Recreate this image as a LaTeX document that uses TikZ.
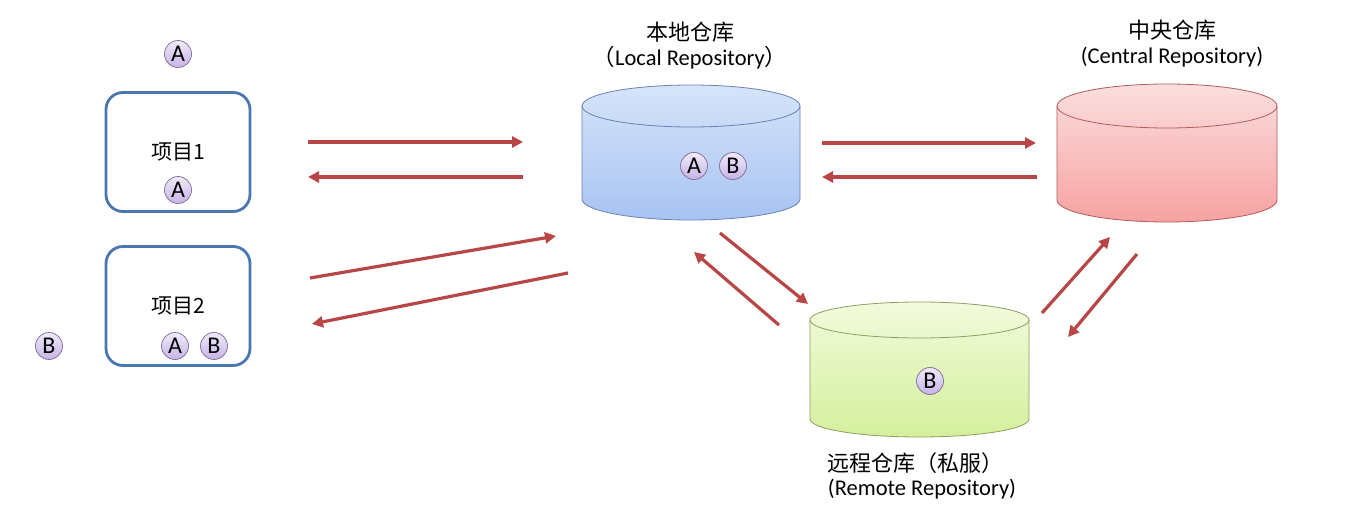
\documentclass[tikz,border=0pt]{standalone}
\usepackage{fontspec}
\setmainfont{Carlito}
\newfontfamily\cjk{Noto Sans CJK SC}
\usepackage{xcolor}
\usetikzlibrary{arrows.meta,positioning,calc}

\definecolor{projblue}{HTML}{4A76B2}
\definecolor{pkgline}{HTML}{7C6E96}
\definecolor{pkgtop}{HTML}{F1EAFB}
\definecolor{pkgbot}{HTML}{C6B3E6}
\definecolor{flowred}{HTML}{B84646}
\definecolor{localtop}{HTML}{D6E4FA}
\definecolor{localbot}{HTML}{A8C3F2}
\definecolor{localline}{HTML}{6A82B2}
\definecolor{centraltop}{HTML}{FBDEDE}
\definecolor{centralbot}{HTML}{F7A2A2}
\definecolor{centralline}{HTML}{B25C5C}
\definecolor{remotetop}{HTML}{F2FADC}
\definecolor{remotebot}{HTML}{D3F09C}
\definecolor{remoteline}{HTML}{8E9E62}

\begin{document}
\begin{tikzpicture}[
            x=1pt, y=-1pt,
            >={Triangle[length=11pt,width=11pt]},
            project/.style={
                draw=projblue,
                line width=2.8pt,
                rounded corners=17pt,
                minimum width=144pt,
                minimum height=119pt,
                font=\cjk\fontsize{21}{23}\selectfont
            },
            pkg/.style={
                circle,
                draw=pkgline,
                line width=0.7pt,
                top color=pkgtop,
                bottom color=pkgbot,
                minimum size=27pt,
                inner sep=0pt,
                font=\fontsize{24}{24}\selectfont
            },
            flow/.style={
                ->,
                draw=flowred,
                line width=3.2pt
            },
            title/.style={
                font=\cjk\fontsize{22}{24}\selectfont
            },
            subtitle/.style={
                font=\fontsize{22.5}{24}\selectfont
            }
            ]

            \useasboundingbox[fill=white] (0,0) rectangle (1365,521);

            % projects
            \node[project] (proj1) at (178,152) {项目1};
            \node[project] (proj2) at (178,306) {项目2};

            \node[pkg] (pkgA) at (178,54) {A};
            \node[pkg] (pkgA1) at (178,190) {A};
            \node[pkg] (pkgB) at (49,346) {B};
            \node[pkg] (pkgA2) at (175,346) {A};
            \node[pkg] (pkgB2) at (214,346) {B};

            % local repository
            \shade[top color=localtop, bottom color=localbot, draw=localline, line width=0.8pt]
            (582,106) -- (582,199)
            arc[start angle=180, end angle=0, x radius=109, y radius=21]
            -- (800,106)
            arc[start angle=0, end angle=-180, x radius=109, y radius=21]
            -- cycle;
            \draw[localline, line width=0.8pt]
            (582,106) arc[start angle=180, end angle=0, x radius=109, y radius=21];
            \coordinate (local) at (691,160);

            \node[title] (localname) at (690,32) {本地仓库};
            \node[subtitle] (localsub) at (690,58)
            {{\cjk （}Local Repository{\cjk ）}};
            \node[pkg] (localA) at (694,166) {A};
            \node[pkg] (localB) at (733,166) {B};

            % central repository
            \shade[top color=centraltop, bottom color=centralbot, draw=centralline, line width=0.8pt]
            (1057,106) -- (1057,200)
            arc[start angle=180, end angle=0, x radius=110, y radius=22]
            -- (1277,106)
            arc[start angle=0, end angle=-180, x radius=110, y radius=22]
            -- cycle;
            \draw[centralline, line width=0.8pt]
            (1057,106) arc[start angle=180, end angle=0, x radius=110, y radius=22];
            \coordinate (central) at (1167,160);

            \node[title] (centralname) at (1172,30) {中央仓库};
            \node[subtitle] (centralsub) at (1172,57) {(Central Repository)};

            % remote repository
            \shade[top color=remotetop, bottom color=remotebot, draw=remoteline, line width=0.8pt]
            (810,320) -- (810,419)
            arc[start angle=180, end angle=0, x radius=109.5, y radius=18]
            -- (1029,320)
            arc[start angle=0, end angle=-180, x radius=109.5, y radius=18]
            -- cycle;
            \draw[remoteline, line width=0.8pt]
            (810,320) arc[start angle=180, end angle=0, x radius=109.5, y radius=18];
            \coordinate (remote) at (920,370);

            \node[pkg] (remoteB) at (930,381) {B};
            \node[title] (remotename) at (915,463) {远程仓库（私服）};
            \node[subtitle] (remotesub) at (922,489) {(Remote Repository)};

            % flow ends
            \coordinate (p1out) at (308,142);
            \coordinate (l1in) at (523,142);
            \coordinate (l1out) at (523,177);
            \coordinate (p1in) at (308,177);
            \coordinate (p2out) at (310,278);
            \coordinate (l2in) at (556,236);
            \coordinate (l2out) at (568,273);
            \coordinate (p2in) at (312,324);
            \coordinate (lcout) at (822,143);
            \coordinate (cin) at (1036,143);
            \coordinate (cout) at (1037,177);
            \coordinate (lcin) at (822,177);
            \coordinate (lrout) at (720,233);
            \coordinate (rin) at (808,304);
            \coordinate (rout) at (779,325);
            \coordinate (lrin) at (694,252);
            \coordinate (rcout) at (1042,313);
            \coordinate (rcin) at (1110,237);
            \coordinate (crout) at (1137,254);
            \coordinate (crin) at (1068,337);

            \draw[flow] (p1out) -- (l1in);
            \draw[flow] (l1out) -- (p1in);
            \draw[flow] (p2out) -- (l2in);
            \draw[flow] (l2out) -- (p2in);
            \draw[flow] (lcout) -- (cin);
            \draw[flow] (cout) -- (lcin);
            \draw[flow] (lrout) -- (rin);
            \draw[flow] (rout) -- (lrin);
            \draw[flow] (rcout) -- (rcin);
            \draw[flow] (crout) -- (crin);

        \end{tikzpicture}
\end{document}
